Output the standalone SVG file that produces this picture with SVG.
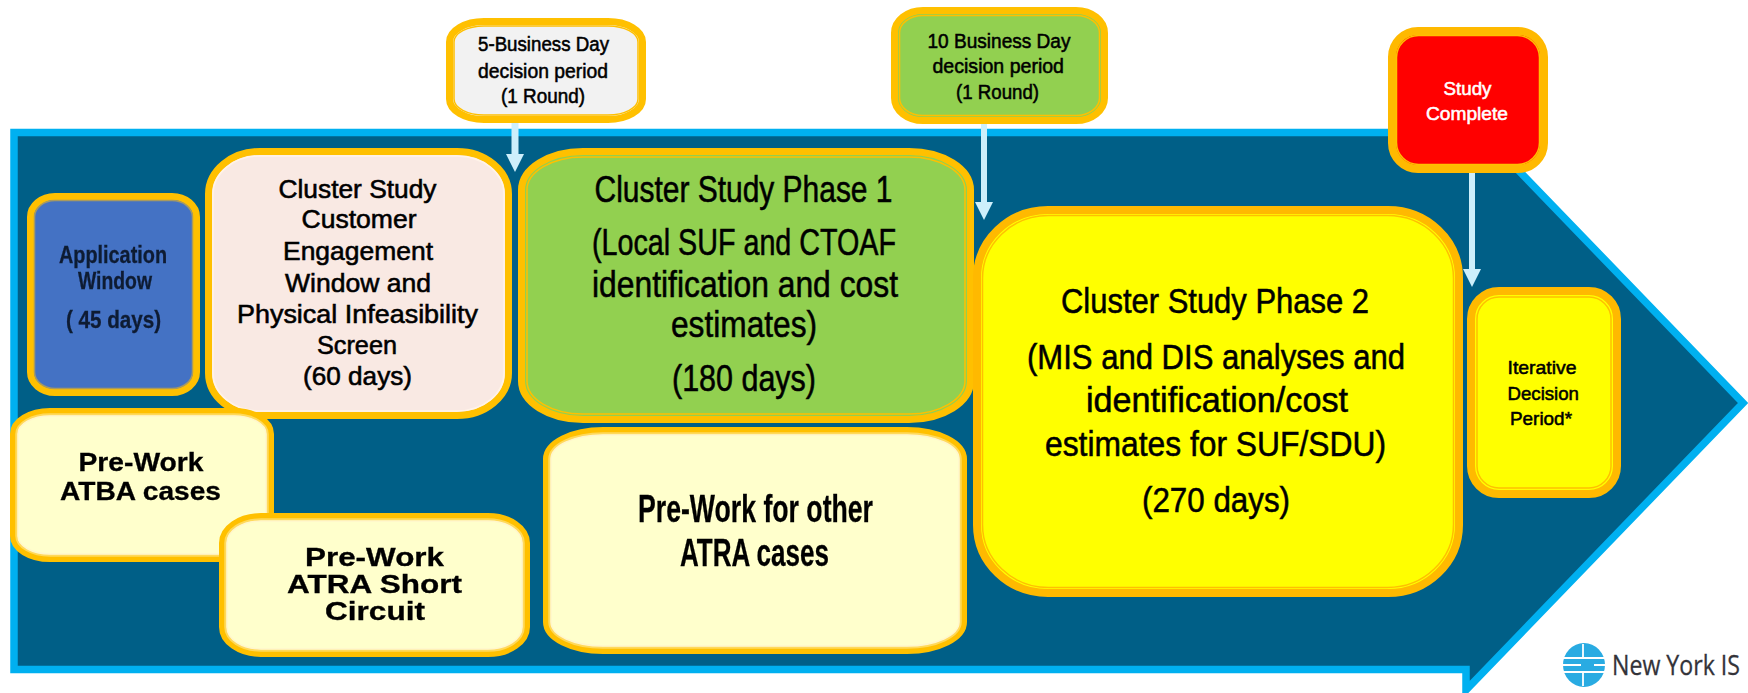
<svg xmlns="http://www.w3.org/2000/svg" width="1748" height="693" viewBox="0 0 1748 693">
<defs><filter id="soft" x="-5%" y="-20%" width="110%" height="140%"><feGaussianBlur stdDeviation="0.5"/></filter></defs>
<style>
text{font-family:"Liberation Sans",Arial,sans-serif;fill:#000;stroke:#000;stroke-width:.55}
.h{font-weight:700;stroke:#000;stroke-width:.3;filter:url(#soft)}
.nv{font-weight:700;fill:#0F1B33;stroke:#0F1B33;stroke-width:.3;filter:url(#soft)}
.w{fill:#fff;stroke:#fff}
.o{stroke:#FFC000;stroke-width:7}
.m{fill:none;stroke:#FFD95A;stroke-width:2.500}
.i{fill:none;stroke:#FFC000;stroke-width:1.500}
.p{stroke:#FFF6CC}
.a{fill:#CDEFFB;stroke:none}
.l{font-family:"Open Sans",sans-serif;fill:#333339;stroke:#333339;stroke-width:.3}
</style>
<polygon points="14,132.5 1466,132.5 1466,116 1743,403 1466,690 1466,669.5 14,669.5" fill="#005F87" stroke="#00B0F0" stroke-width="7.5"/>
<g id="connectors">
<polygon class="a" points="511.500,122 518.500,122 518.500,154 524,154 515,172 506,154 511.500,154"/>
<polygon class="a" points="981,122 987,122 987,202 993,202 984,220 975,202 981,202"/>
<polygon class="a" points="1469,173 1475,173 1475,269 1481,269 1472,287 1463,269 1469,269"/>
</g>
<g id="app-window"><rect class="o" x="30.500" y="196.500" width="166" height="196" rx="24.500" ry="20.500" fill="#4472C4"/><rect class="i" x="34.500" y="200.500" width="158" height="188" rx="20.500" ry="16.500" style="stroke:#A89A60"/>
<text class="nv" font-size="24" x="59" y="263" textLength="108" lengthAdjust="spacingAndGlyphs">Application</text><text class="nv" font-size="24" x="78" y="289" textLength="74" lengthAdjust="spacingAndGlyphs">Window</text><text class="nv" font-size="24" x="66" y="328" textLength="95" lengthAdjust="spacingAndGlyphs">( 45 days)</text></g>
<g id="customer-engagement"><rect class="o" x="208.500" y="151.500" width="300" height="264" rx="51.500" ry="42.500" fill="#F9E9E3"/><rect class="i" x="213" y="156" width="291" height="255" rx="47" ry="38" style="stroke:#FFF3E8"/>
<text font-size="25" x="278.500" y="198" textLength="158" lengthAdjust="spacingAndGlyphs">Cluster Study</text><text font-size="25" x="301.500" y="228" textLength="115" lengthAdjust="spacingAndGlyphs">Customer</text><text font-size="25" x="283" y="260" textLength="150" lengthAdjust="spacingAndGlyphs">Engagement</text><text font-size="25" x="285" y="292" textLength="146" lengthAdjust="spacingAndGlyphs">Window and</text><text font-size="25" x="237" y="323" textLength="241" lengthAdjust="spacingAndGlyphs">Physical Infeasibility</text><text font-size="25" x="317" y="354" textLength="80" lengthAdjust="spacingAndGlyphs">Screen</text><text font-size="25" x="303" y="385" textLength="109" lengthAdjust="spacingAndGlyphs">(60 days)</text></g>
<g id="prework-atba"><rect class="o" x="13.500" y="411.500" width="257" height="147" rx="36.500" ry="22.500" fill="#FFFFCC"/><rect class="m" x="16.500" y="414.500" width="251" height="141" rx="33.500" ry="19.500"/><rect class="i p" x="18" y="416" width="248" height="138" rx="32" ry="18"/>
<text class="h" font-size="25.500" x="78.500" y="471" textLength="125" lengthAdjust="spacingAndGlyphs">Pre-Work</text><text class="h" font-size="25.500" x="60" y="500" textLength="161" lengthAdjust="spacingAndGlyphs">ATBA cases</text></g>
<g id="prework-short"><rect class="o" x="222.500" y="516.500" width="304" height="137" rx="38.500" ry="26.500" fill="#FFFFCC"/><rect class="m" x="225.500" y="519.500" width="298" height="131" rx="35.500" ry="23.500"/><rect class="i p" x="227" y="521" width="295" height="128" rx="34" ry="22"/>
<text class="h" font-size="25.500" x="305" y="566" textLength="139" lengthAdjust="spacingAndGlyphs">Pre-Work</text><text class="h" font-size="25.500" x="287" y="593" textLength="175" lengthAdjust="spacingAndGlyphs">ATRA Short</text><text class="h" font-size="25.500" x="325" y="620" textLength="100" lengthAdjust="spacingAndGlyphs">Circuit</text></g>
<g id="phase1"><rect class="o" x="521.500" y="151.500" width="449" height="268" rx="61.500" ry="38.500" fill="#92D050"/><rect class="i" x="527" y="157" width="438" height="257" rx="56" ry="33"/>
<text font-size="36" x="594.500" y="202" textLength="298" lengthAdjust="spacingAndGlyphs">Cluster Study Phase 1</text><text font-size="36" x="592" y="255" textLength="304" lengthAdjust="spacingAndGlyphs">(Local SUF and CTOAF</text><text font-size="36" x="592" y="297" textLength="306" lengthAdjust="spacingAndGlyphs">identification and cost</text><text font-size="36" x="671" y="337" textLength="146" lengthAdjust="spacingAndGlyphs">estimates)</text><text font-size="36" x="672" y="391" textLength="144" lengthAdjust="spacingAndGlyphs">(180 days)</text></g>
<g id="prework-other"><rect class="o" x="546.500" y="430.500" width="417" height="220" rx="56.500" ry="28.500" fill="#FFFFCC"/><rect class="m" x="549.500" y="433.500" width="411" height="214" rx="53.500" ry="25.500"/><rect class="i p" x="551" y="435" width="408" height="211" rx="52" ry="24"/>
<text class="h" font-size="38" x="638" y="522" textLength="235" lengthAdjust="spacingAndGlyphs">Pre-Work for other</text><text class="h" font-size="38" x="680" y="566" textLength="149" lengthAdjust="spacingAndGlyphs">ATRA cases</text></g>
<g id="phase2"><rect class="o" x="977" y="210" width="482" height="383" rx="71" ry="68" fill="#FFFF00" style="stroke-width:8;stroke:#FFB900"/><rect class="i" x="982.500" y="215.500" width="471" height="372" rx="66" ry="63"/>
<text font-size="35.500" x="1061" y="313" textLength="308" lengthAdjust="spacingAndGlyphs">Cluster Study Phase 2</text><text font-size="35.500" x="1027" y="369" textLength="378" lengthAdjust="spacingAndGlyphs">(MIS and DIS analyses and</text><text font-size="35.500" x="1086" y="412" textLength="262" lengthAdjust="spacingAndGlyphs">identification/cost</text><text font-size="35.500" x="1045" y="456" textLength="341" lengthAdjust="spacingAndGlyphs">estimates for SUF/SDU)</text><text font-size="35.500" x="1142" y="512" textLength="148" lengthAdjust="spacingAndGlyphs">(270 days)</text></g>
<g id="iterative"><rect class="o" x="1471" y="291" width="146" height="203" rx="28" fill="#FFFF00" style="stroke-width:8;stroke:#FFB900"/><rect class="i" x="1477" y="297" width="134" height="191" rx="22"/>
<text font-size="19" x="1507.500" y="374" textLength="69" lengthAdjust="spacingAndGlyphs">Iterative</text><text font-size="19" x="1507.500" y="400" textLength="71.500" lengthAdjust="spacingAndGlyphs">Decision</text><text font-size="19" x="1510" y="425" textLength="62" lengthAdjust="spacingAndGlyphs">Period*</text></g>
<g id="five-day"><rect class="o" x="449.500" y="21.500" width="193" height="98" rx="34.500" ry="20.500" fill="#F2F2F2"/><rect class="i" x="454" y="26" width="184" height="89" rx="30" ry="16"/>
<text font-size="20.500" x="478" y="51" textLength="131" lengthAdjust="spacingAndGlyphs">5-Business Day</text><text font-size="20.500" x="478" y="77.500" textLength="130" lengthAdjust="spacingAndGlyphs">decision period</text><text font-size="20.500" x="501" y="103" textLength="84" lengthAdjust="spacingAndGlyphs">(1 Round)</text></g>
<g id="ten-day"><rect class="o" x="894.500" y="10.500" width="210" height="110" rx="28.500" ry="22.500" fill="#92D050"/><rect class="i" x="899.500" y="15.500" width="200" height="100" rx="23.500" ry="17.500"/>
<text font-size="20.500" x="927.500" y="47.500" textLength="143" lengthAdjust="spacingAndGlyphs">10 Business Day</text><text font-size="20.500" x="932.500" y="73" textLength="131.500" lengthAdjust="spacingAndGlyphs">decision period</text><text font-size="20.500" x="956" y="98.500" textLength="83" lengthAdjust="spacingAndGlyphs">(1 Round)</text></g>
<g id="complete"><rect class="o" x="1392" y="31" width="152" height="138" rx="26" fill="#FF0000" style="stroke-width:8;stroke:#FFB900"/><rect class="i" x="1396.500" y="35.500" width="143" height="129" rx="22"/>
<text class="w" font-size="19" x="1443.500" y="95" textLength="48" lengthAdjust="spacingAndGlyphs">Study</text><text class="w" font-size="19" x="1426" y="120" textLength="82" lengthAdjust="spacingAndGlyphs">Complete</text></g>
<g id="logo"><ellipse cx="1584" cy="665" rx="21" ry="22" fill="#29ABE2"/><path d="M1563 658h42M1563 672h42M1583 644v14M1583 672v14M1563 665h18M1594 665h11" stroke="#fff" stroke-width="1.800" fill="none"/>
<text class="l" x="1612" y="675" font-size="28" textLength="128" lengthAdjust="spacingAndGlyphs">New York IS</text></g>
</svg>
